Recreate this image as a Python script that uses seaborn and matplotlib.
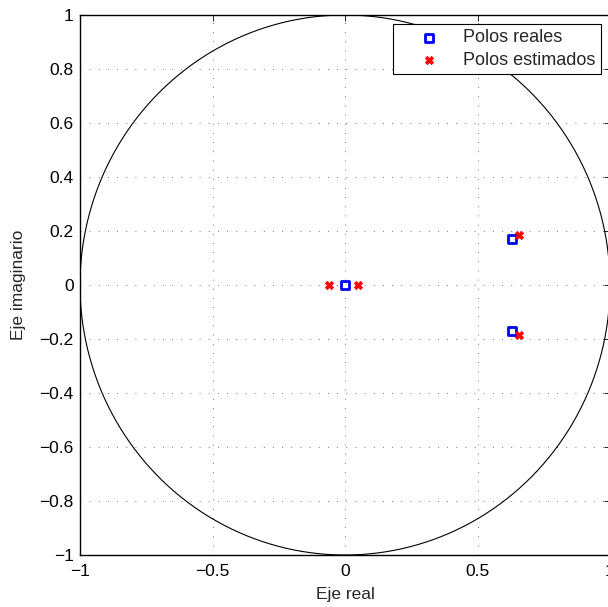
import numpy as np
import pandas as pd
import matplotlib
matplotlib.use("Agg")
import matplotlib.pyplot as plt
import seaborn as sns

# Data
real_re = [0.0, 0.63, 0.63]
real_im = [0.0, 0.17, -0.17]
est_re = [-0.06, 0.05, 0.655, 0.655]
est_im = [0.0, 0.0, 0.187, -0.187]
xticks = [-1, -0.5, 0, 0.5, 1]
yticks = [-1, -0.8, -0.6, -0.4, -0.2, 0, 0.2, 0.4, 0.6, 0.8, 1]
xlabels = ["\u22121", "\u22120.5", "0", "0.5", "1"]
ylabels = ["\u22121", "\u22120.8", "\u22120.6", "\u22120.4", "\u22120.2", "0", "0.2", "0.4", "0.6", "0.8", "1"]

sns.set_style("white")
plt.rcParams['font.family'] = ['Liberation Sans', 'DejaVu Sans']

fs = 12.5
fig = plt.figure(figsize=(6.08, 6.07), dpi=100)
ax = fig.add_axes([80/608, 52/607, 530/608, 540/607])

t = np.linspace(0, 2*np.pi, 400)
ax.plot(np.cos(t), np.sin(t), color='black', lw=0.8, zorder=1)

df_real = pd.DataFrame({"re": real_re, "im": real_im})
df_est = pd.DataFrame({"re": est_re, "im": est_im})
sns.scatterplot(data=df_real, x="re", y="im", ax=ax, marker='s', s=34,
                facecolor='white', edgecolor='#0000ff', linewidth=2.0,
                label="Polos reales", zorder=3)
sns.scatterplot(data=df_est, x="re", y="im", ax=ax, marker='X', s=36,
                color='#ff0000', edgecolor='#ff0000', linewidth=0.5,
                label="Polos estimados", zorder=4)

ax.set_xlim(-1, 1)
ax.set_ylim(-1, 1)
ax.set_xticks(xticks)
ax.set_xticklabels(xlabels)
ax.set_yticks(yticks)
ax.set_yticklabels(ylabels)
ax.tick_params(direction='in', length=4, width=0.6, labelsize=fs, top=True, right=True,
               colors='black')
ax.tick_params(axis='x', pad=6.5)
ax.tick_params(axis='y', pad=4.5)
ax.grid(True, linestyle=(0, (1, 10)), color='#444444', linewidth=0.6)
for sp in ax.spines.values():
    sp.set_color('black')
    sp.set_linewidth(1.0)
ax.set_xlabel("Eje real", fontsize=fs, labelpad=6)
ax.set_ylabel("Eje imaginario", fontsize=fs, labelpad=10)

leg = ax.legend(loc='upper right', fontsize=13, frameon=True, fancybox=False,
                edgecolor='black', framealpha=1, borderaxespad=0.5,
                handletextpad=0.2, borderpad=0.3, labelspacing=0.3, handlelength=3.4)
leg.get_frame().set_linewidth(0.8)

fig.savefig("out.png", dpi=100)
